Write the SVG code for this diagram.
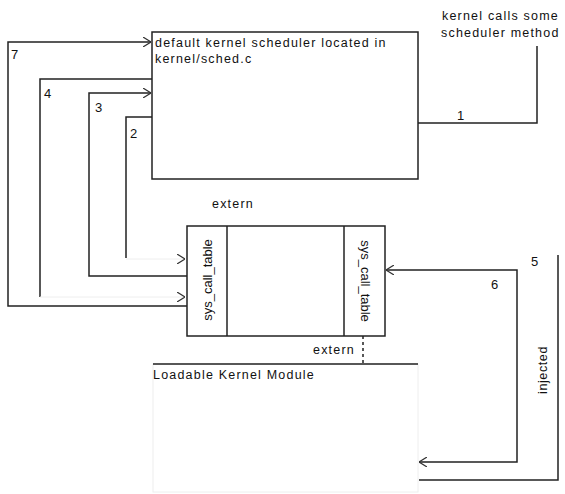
<svg xmlns="http://www.w3.org/2000/svg" width="565" height="494" viewBox="0 0 565 494">
<style>
.box{fill:#fff;stroke:#222;stroke-width:1.5}
.ln{fill:none;stroke:#222;stroke-width:1.5}
.faint{fill:none;stroke:#eeeeee;stroke-width:1}
.t{font-family:"Liberation Sans",Arial,sans-serif;font-size:12.5px;fill:#111;letter-spacing:1.2px}
.v{font-family:"Liberation Sans",Arial,sans-serif;font-size:13px;fill:#111}
</style>
<defs>
<marker id="arr" viewBox="0 0 8 10" refX="8" refY="5" markerWidth="8" markerHeight="10" markerUnits="userSpaceOnUse" orient="auto-start-reverse">
<path d="M0,0 L8,5 L0,10" fill="none" stroke="#333" stroke-width="1.2"/>
</marker>
</defs>
<rect width="565" height="494" fill="#fff"/>
<g id="lkm">
<rect x="153" y="364" width="265" height="128" class="faint"/>
<line x1="153" y1="364" x2="418" y2="364" class="ln"/>
<text x="153" y="379" class="t">Loadable Kernel Module</text>
</g>
<g id="scheduler">
<rect x="152" y="32" width="266" height="147" class="box"/>
<text x="155" y="47" class="t">default kernel scheduler located in</text>
<text x="155" y="63" class="t">kernel/sched.c</text>
</g>
<g id="table">
<rect x="187" y="226" width="198" height="110" class="box"/>
<line x1="227" y1="226" x2="227" y2="336" class="ln"/>
<line x1="344" y1="226" x2="344" y2="336" class="ln"/>
<text transform="translate(212,280) rotate(-90)" text-anchor="middle" class="v">sys_call_table</text>
<text transform="translate(361,281) rotate(90)" text-anchor="middle" class="v">sys_call_table</text>
</g>
<g id="labels">
<text x="442" y="20" class="t">kernel calls some</text>
<text x="441" y="37" class="t">scheduler method</text>
<text x="212" y="208" class="t">extern</text>
<text x="313" y="354" class="t">extern</text>
<text transform="translate(547,370) rotate(-90)" text-anchor="middle" class="t" style="letter-spacing:0.6px">injected</text>
</g>
<g id="connectors">
<path d="M418,123 H537 V46" class="ln"/>
<path d="M187,306 H8 V42 H151" class="ln" marker-end="url(#arr)"/>
<path d="M152,79 H40 V297" class="ln"/>
<path d="M40,297 H185" class="faint" marker-end="url(#arr)"/>
<path d="M187,276 H89 V93 H151" class="ln" marker-end="url(#arr)"/>
<path d="M152,117 H126 V258" class="ln"/>
<path d="M126,259 H185" class="faint" marker-end="url(#arr)"/>
<path d="M419,462 H517 V270 H386" class="ln" marker-start="url(#arr)" marker-end="url(#arr)"/>
<path d="M558,255 V480 H419" class="ln"/>
<path d="M363,336 V364" class="ln" stroke-dasharray="3,3"/>
<text x="11" y="59" class="v">7</text>
<text x="44" y="98" class="v">4</text>
<text x="95" y="112" class="v">3</text>
<text x="130" y="138" class="v">2</text>
<text x="457" y="120" class="v">1</text>
<text x="491" y="289" class="v">6</text>
<text x="531" y="266" class="v">5</text>
</g>
</svg>
